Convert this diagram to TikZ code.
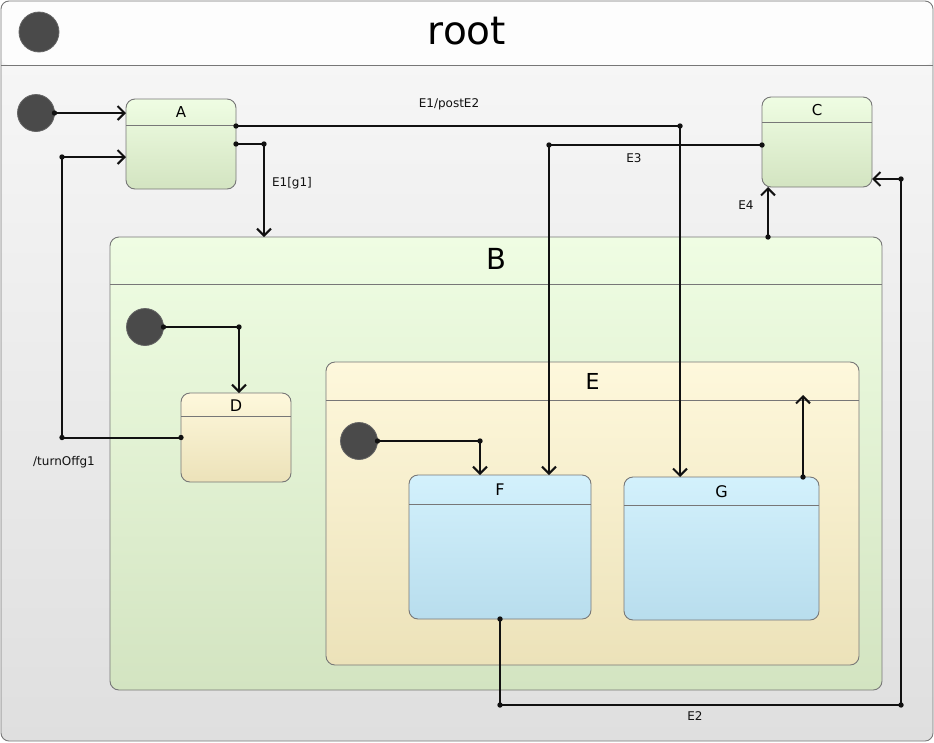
\documentclass[tikz,border=0pt]{standalone}
\usepackage{fontspec}
\setmainfont{DejaVu Sans}
\usetikzlibrary{arrows.meta, positioning, calc}
\definecolor{roottop}{RGB}{248, 248, 248}
\definecolor{rootbottom}{RGB}{223, 223, 223}
\definecolor{roothead}{RGB}{253, 253, 253}
\definecolor{greentop}{RGB}{239, 253, 227}
\definecolor{greenbottom}{RGB}{211, 228, 193}
\definecolor{yellowtop}{RGB}{254, 248, 220}
\definecolor{yellowbottom}{RGB}{236, 226, 185}
\definecolor{bluetop}{RGB}{211, 241, 252}
\definecolor{bluebottom}{RGB}{184, 221, 237}
\definecolor{bordergray}{RGB}{119, 119, 119}
\definecolor{initgray}{RGB}{74, 74, 74}
\definecolor{darkline}{RGB}{17, 17, 17}
\tikzstyle{state_box} = [rectangle, rounded corners=9pt, draw=bordergray, line width=0.9pt, inner sep=0pt, outer sep=0pt]
\tikzstyle{green_state} = [state_box, top color=greentop, bottom color=greenbottom]
\tikzstyle{yellow_state} = [state_box, top color=yellowtop, bottom color=yellowbottom]
\tikzstyle{blue_state} = [state_box, top color=bluetop, bottom color=bluebottom]
\tikzstyle{header_line} = [draw=bordergray, line width=0.9pt]
\tikzstyle{state_name} = [font=\fontsize{15}{18}\selectfont, text=black, inner sep=0pt]
\tikzstyle{initial} = [circle, fill=initgray, draw=initgray!85, line width=0.8pt, minimum size=37pt, inner sep=0pt, outer sep=0pt]
\tikzstyle{trans} = [draw=darkline, line width=2pt, -{Straight Barb[length=7pt, width=14pt]}]
\tikzstyle{trans_dot} = [fill=darkline]
\tikzstyle{trans_label} = [font=\fontsize{12}{14}\selectfont, text=darkline, inner sep=0pt]

\begin{document}
\begin{tikzpicture}[x=1pt, y=-1pt]
\useasboundingbox (0,0) rectangle (934,742);

% Root state
\node[state_box, rounded corners=8pt, minimum width=932pt, minimum height=740pt, top color=roottop, bottom color=rootbottom,
  path picture={\fill[roothead] (path picture bounding box.north west) rectangle ([yshift=-64pt]path picture bounding box.north east);}] (root) at (467,371) {};
\draw[header_line] ([yshift=-64pt]root.north west) -- ([yshift=-64pt]root.north east);
\node[state_name, font=\fontsize{39}{44}\selectfont] (rootname) at (467,31) {root};
\node[initial, minimum size=40pt] (rootinit) at (39,32) {};

% Top level states
\node[initial] (init) at (36,113) {};
\node[green_state, minimum width=110pt, minimum height=90pt] (A) at (181,144) {};
\draw[header_line] ([yshift=-26pt]A.north west) -- ([yshift=-26pt]A.north east);
\node[state_name] (Aname) at ([yshift=-13pt]A.north) {A};

\node[green_state, minimum width=110pt, minimum height=90pt] (C) at (817,142) {};
\draw[header_line] ([yshift=-25pt]C.north west) -- ([yshift=-25pt]C.north east);
\node[state_name] (Cname) at ([yshift=-13pt]C.north) {C};

\node[green_state, minimum width=772pt, minimum height=453pt] (B) at (496,463.5) {};
\draw[header_line] ([yshift=-47pt]B.north west) -- ([yshift=-47pt]B.north east);
\node[state_name, font=\fontsize{29}{34}\selectfont] (Bname) at ([yshift=-22pt]B.north) {B};

% Inside B
\node[initial] (initB) at (145,327) {};
\node[yellow_state, minimum width=110pt, minimum height=89pt] (D) at (236,437.5) {};
\draw[header_line] ([yshift=-23pt]D.north west) -- ([yshift=-23pt]D.north east);
\node[state_name, font=\fontsize{16}{19}\selectfont] (Dname) at ([yshift=-13pt]D.north) {D};

\node[yellow_state, minimum width=533pt, minimum height=303pt] (E) at (592.5,513.5) {};
\draw[header_line] ([yshift=-38pt]E.north west) -- ([yshift=-38pt]E.north east);
\node[state_name, font=\fontsize{22}{26}\selectfont] (Ename) at ([yshift=-19pt]E.north) {E};

% Inside E
\node[initial] (initE) at (359,441) {};
\node[blue_state, minimum width=182pt, minimum height=144pt] (F) at (500,547) {};
\draw[header_line] ([yshift=-29pt]F.north west) -- ([yshift=-29pt]F.north east);
\node[state_name, font=\fontsize{16}{19}\selectfont] (Fname) at ([yshift=-15pt]F.north) {F};

\node[blue_state, minimum width=195pt, minimum height=143pt] (G) at (721.5,548.5) {};
\draw[header_line] ([yshift=-28pt]G.north west) -- ([yshift=-28pt]G.north east);
\node[state_name, font=\fontsize{16}{19}\selectfont] (Gname) at ([yshift=-15pt]G.north) {G};

% Transitions
\draw[trans] (init.east) -- ([yshift=31pt]A.west);
\fill[trans_dot] (init.east) circle (2.7pt);

\coordinate (t2s) at ([yshift=18pt]A.east);
\coordinate (t2t) at ([xshift=-41.5pt]G.north);
\draw[trans] (t2s) -| (t2t);
\fill[trans_dot] (t2s) circle (2.7pt) (t2s -| t2t) circle (2.7pt);

\coordinate (t3s) at (A.east);
\coordinate (t3t) at ([xshift=-232pt]B.north);
\draw[trans] (t3s) -| (t3t);
\fill[trans_dot] (t3s) circle (2.7pt) (t3s -| t3t) circle (2.7pt);

\coordinate (t4s) at ([yshift=-3pt]C.west);
\coordinate (t4t) at ([xshift=49pt]F.north);
\draw[trans] (t4s) -| (t4t);
\fill[trans_dot] (t4s) circle (2.7pt) (t4s -| t4t) circle (2.7pt);

\coordinate (t5s) at ([xshift=272pt]B.north);
\draw[trans] (t5s) -- ([xshift=-49pt]C.south);
\fill[trans_dot] (t5s) circle (2.7pt);

\coordinate (t6s) at (F.south);
\coordinate (t6b) at ([xshift=-32pt, yshift=36pt]root.south east);
\coordinate (t6t) at ([yshift=-37pt]C.east);
\draw[trans] (t6s) |- (t6b) |- (t6t);
\fill[trans_dot] (t6s) circle (2.7pt) (t6s |- t6b) circle (2.7pt) (t6b) circle (2.7pt) (t6b |- t6t) circle (2.7pt);

\coordinate (t7s) at (D.west);
\coordinate (t7b) at ($(D.west -| root.west)+(61,0)$);
\coordinate (t7t) at ([yshift=-13pt]A.west);
\draw[trans] (t7s) -- (t7b) |- (t7t);
\fill[trans_dot] (t7s) circle (2.7pt) (t7b) circle (2.7pt) (t7b |- t7t) circle (2.7pt);

\coordinate (t8t) at ([xshift=3pt]D.north);
\draw[trans] (initB.east) -| (t8t);
\fill[trans_dot] (initB.east) circle (2.7pt) (initB.east -| t8t) circle (2.7pt);

\coordinate (t9t) at ([xshift=-20pt]F.north);
\draw[trans] (initE.east) -| (t9t);
\fill[trans_dot] (initE.east) circle (2.7pt) (initE.east -| t9t) circle (2.7pt);

\coordinate (t10s) at ([xshift=81.5pt]G.north);
\coordinate (t10t) at ([xshift=210.5pt, yshift=-33pt]E.north);
\draw[trans] (t10s) -- (t10t);
\fill[trans_dot] (t10s) circle (2.7pt);

% Transition labels
\node[trans_label] (l2) at (449,104) {E1/postE2};
\node[trans_label] (l3) at (292,183) {E1[g1]};
\node[trans_label] (l4) at (634,158) {E3};
\node[trans_label] (l5) at (746,205) {E4};
\node[trans_label] (l6) at (695,716) {E2};
\node[trans_label] (l7) at (64,462) {/turnOffg1};

\end{tikzpicture}
\end{document}
